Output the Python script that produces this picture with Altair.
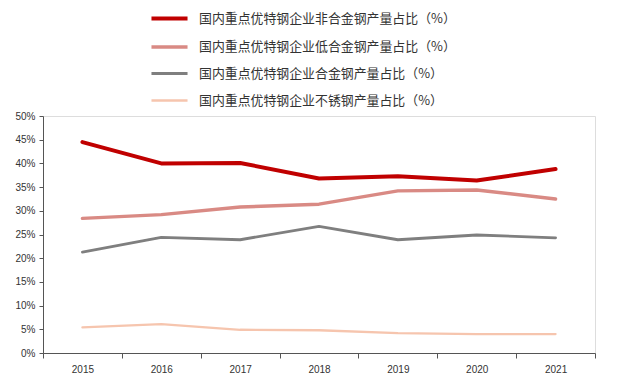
import altair as alt
import pandas as pd

years = ["2015", "2016", "2017", "2018", "2019", "2020", "2021"]
series_names = [
    "国内重点优特钢企业非合金钢产量占比（%）",
    "国内重点优特钢企业低合金钢产量占比（%）",
    "国内重点优特钢企业合金钢产量占比（%）",
    "国内重点优特钢企业不锈钢产量占比（%）",
]
non_alloy = [44.5, 40.0, 40.1, 36.8, 37.3, 36.4, 38.8]
low_alloy = [28.4, 29.2, 30.8, 31.4, 34.2, 34.4, 32.5]
alloy = [21.3, 24.4, 23.9, 26.7, 23.9, 24.9, 24.3]
stainless = [5.4, 6.1, 4.9, 4.8, 4.2, 4.0, 4.0]
colors = ["#C00000", "#D98A84", "#7F7F7F", "#F6C5AE"]
widths = [4, 2.3, 2.3, 2.3]

rows = []
for name, vals in zip(series_names, [non_alloy, low_alloy, alloy, stainless]):
    for y, v in zip(years, vals):
        rows.append({"year": y, "series": name, "value": v})
df = pd.DataFrame(rows)

font = "Liberation Sans"
legend_font = "Noto Sans CJK SC"

legend = alt.Legend(
    title=None,
    orient="none",
    legendX=106,
    legendY=-118,
    symbolType="stroke",
    symbolSize=1300,
    labelFont=legend_font,
    labelFontSize=12.9,
    labelColor="#333333",
    rowPadding=-6,
    labelOffset=9,
    labelLimit=400,
)

chart = (
    alt.Chart(df)
    .mark_line(strokeCap="round", strokeJoin="round")
    .encode(
        x=alt.X(
            "year:N",
            title=None,
            sort=years,
            scale=alt.Scale(type="band", paddingInner=0, paddingOuter=0),
            axis=alt.Axis(
                labelAngle=0,
                tickBand="extent",
                labelFont=font,
                labelFontSize=10,
                labelColor="#333333",
                labelPadding=6,
                domainColor="#555555",
                tickColor="#555555",
                tickSize=5,
                grid=False,
            ),
        ),
        y=alt.Y(
            "value:Q",
            title=None,
            scale=alt.Scale(domain=[0, 50], nice=False),
            axis=alt.Axis(
                values=[0, 5, 10, 15, 20, 25, 30, 35, 40, 45, 50],
                labelExpr="datum.value + '%'",
                labelFont=font,
                labelFontSize=10,
                labelColor="#333333",
                labelPadding=4,
                domainColor="#555555",
                tickColor="#555555",
                tickSize=4,
                grid=False,
            ),
        ),
        color=alt.Color(
            "series:N",
            sort=series_names,
            scale=alt.Scale(domain=series_names, range=colors),
            legend=legend,
        ),
        strokeWidth=alt.StrokeWidth(
            "series:N",
            sort=series_names,
            scale=alt.Scale(domain=series_names, range=widths),
            legend=legend,
        ),
    )
    .properties(
        width=552,
        height=237,
        autosize=alt.AutoSizeParams(type="none"),
        padding={"left": 35, "top": 108, "right": 37, "bottom": 30},
    )
    .configure_view(stroke=None)
    .configure(background="white")
)

chart.save("out.html", embed_options={"renderer": "svg", "actions": False})
